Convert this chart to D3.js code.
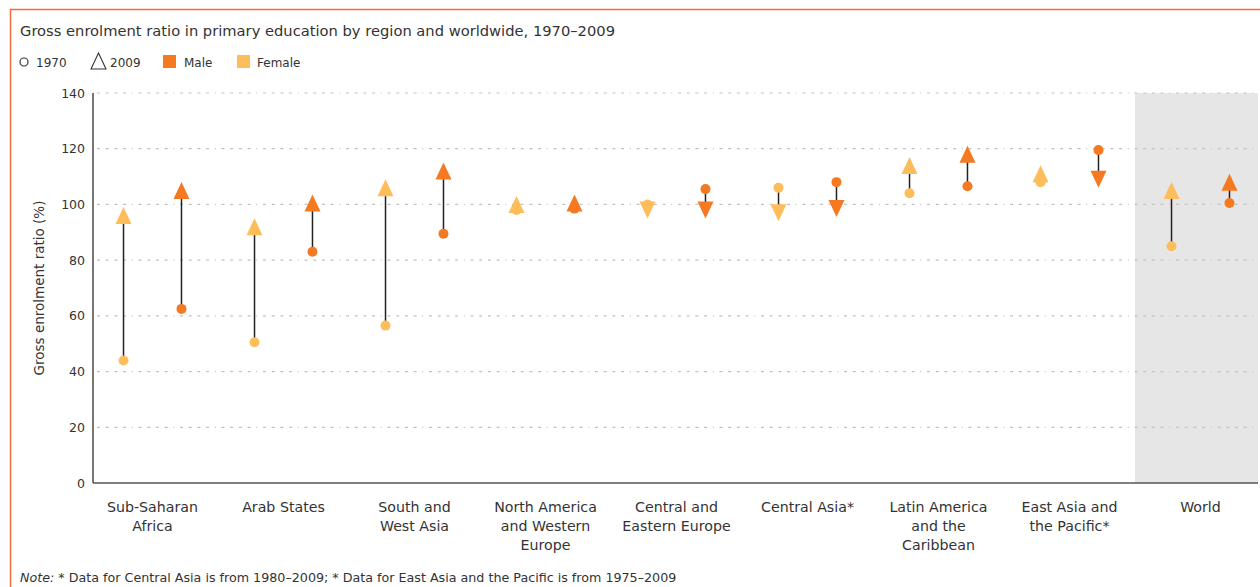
<!DOCTYPE html>
<meta charset="utf-8">
<html>
<style>
  body { margin: 0; background: #fff; }
  svg text { font-family: "DejaVu Sans", sans-serif; fill: #333; }
  .tick-label { font-size: 12.5px; }
  .cat { font-size: 14.2px; text-anchor: middle; }
</style>
<script src="https://cdnjs.cloudflare.com/ajax/libs/d3/7.8.5/d3.min.js"></script>
<body>
  <svg class="chart"></svg>
</body>
<script>
  var width = 1260;
  var height = 587;

  // data
  var categories = ["Sub-Saharan Africa", "Arab States", "South and West Asia",
    "North America and Western Europe", "Central and Eastern Europe", "Central Asia*",
    "Latin America and the Caribbean", "East Asia and the Pacific*", "World"];
  var categoryLines = [["Sub-Saharan", "Africa"], ["Arab States"], ["South and", "West Asia"],
    ["North America", "and Western", "Europe"], ["Central and", "Eastern Europe"], ["Central Asia*"],
    ["Latin America", "and the", "Caribbean"], ["East Asia and", "the Pacific*"], ["World"]];
  var female1970 = [44, 50.5, 56.5, 98, 100, 106, 104, 108, 85];
  var female2009 = [96, 92, 106, 100, 98, 97, 114, 111, 105];
  var male1970 = [62.5, 83, 89.5, 98.5, 105.5, 108, 106.5, 119.5, 100.5];
  var male2009 = [105, 100.5, 112, 100.5, 98, 98.5, 118, 109, 108];
  var yTicks = [0, 20, 40, 60, 80, 100, 120, 140];

  var maleColor = "#f47920";
  var femaleColor = "#fdbd5b";

  var svg = d3.select(".chart").attr("width", width).attr("height", height);

  var plotTop = 93, plotBottom = 483, plotLeft = 93, plotRight = 1258;

  var x = d3.scaleBand().domain(categories).range([87, 1266]);
  var sub = d3.scalePoint().domain(["Female", "Male"]).range([0, x.bandwidth()]).padding(0.63);
  var y = d3.scaleLinear().domain([0, 140]).range([plotBottom, plotTop]);

  // frame
  svg.append("path")
    .attr("d", "M10.5," + height + "V9.5H" + width)
    .attr("fill", "none")
    .attr("stroke", "#f26b3a")
    .attr("stroke-width", 1.5);

  // title
  svg.append("text").attr("x", 20).attr("y", 36)
    .style("font-size", "14.7px")
    .text("Gross enrolment ratio in primary education by region and worldwide, 1970\u20132009");

  // legend
  var lg = svg.append("g").style("font-size", "12px");
  lg.append("circle").attr("cx", 24).attr("cy", 62).attr("r", 4)
    .attr("fill", "none").attr("stroke", "#333").attr("stroke-width", 1.2);
  lg.append("text").attr("x", 36).attr("y", 66.5).text("1970");
  lg.append("path").attr("d", "M98.5,53L106,69H91Z")
    .attr("fill", "none").attr("stroke", "#333").attr("stroke-width", 1.1);
  lg.append("text").attr("x", 110).attr("y", 66.5).text("2009");
  lg.append("rect").attr("x", 163).attr("y", 55).attr("width", 13).attr("height", 13).attr("fill", maleColor);
  lg.append("text").attr("x", 184).attr("y", 66.5).text("Male");
  lg.append("rect").attr("x", 237).attr("y", 55).attr("width", 13).attr("height", 13).attr("fill", femaleColor);
  lg.append("text").attr("x", 257).attr("y", 66.5).text("Female");

  // world background
  svg.append("rect")
    .attr("x", x("World"))
    .attr("y", plotTop)
    .attr("width", plotRight - x("World"))
    .attr("height", plotBottom - plotTop)
    .attr("fill", "#e6e6e6");

  // grid
  svg.append("g").selectAll("line")
    .data(yTicks.filter(function(d) { return d > 0; }))
    .enter().append("line")
    .attr("x1", plotLeft + 4).attr("x2", plotRight)
    .attr("y1", function(d) { return y(d); })
    .attr("y2", function(d) { return y(d); })
    .attr("stroke", "#c2c2c2")
    .attr("stroke-width", 1.2)
    .attr("stroke-dasharray", "3,5.7,3,5.7,3,5.7,3,5.7,1,5.7");

  // axes
  var yAxis = svg.append("g")
    .attr("transform", "translate(" + plotLeft + ",0)")
    .call(d3.axisLeft(y).tickValues(yTicks).tickSize(0).tickPadding(8));
  yAxis.select(".domain").remove();
  yAxis.selectAll("text").attr("class", "tick-label")
    .style("font-family", "DejaVu Sans, sans-serif").attr("fill", "#333");

  svg.append("line").attr("x1", plotLeft).attr("x2", plotLeft).attr("y1", plotTop).attr("y2", plotBottom)
    .attr("stroke", "#555").attr("stroke-width", 1.6);
  svg.append("line").attr("x1", plotLeft).attr("x2", plotRight).attr("y1", plotBottom).attr("y2", plotBottom)
    .attr("stroke", "#555").attr("stroke-width", 1.6);

  svg.append("text")
    .attr("transform", "translate(44," + ((plotTop + plotBottom) / 2) + ") rotate(-90)")
    .attr("text-anchor", "middle")
    .style("font-size", "13.5px")
    .text("Gross enrolment ratio (%)");

  // category labels
  var cat = svg.append("g").selectAll("text")
    .data(categories)
    .enter().append("text")
    .attr("class", "cat")
    .attr("x", function(d) { return x(d) + x.bandwidth() / 2; })
    .attr("y", 512);
  cat.each(function(d, i) {
    var t = d3.select(this);
    categoryLines[i].forEach(function(line, j) {
      t.append("tspan").attr("x", x(d) + x.bandwidth() / 2).attr("dy", j === 0 ? 0 : 19).text(line);
    });
  });

  // marks
  var series = [];
  categories.forEach(function(c, i) {
    series.push({ cat: c, sex: "Female", v0: female1970[i], v1: female2009[i], color: femaleColor });
    series.push({ cat: c, sex: "Male", v0: male1970[i], v1: male2009[i], color: maleColor });
  });

  function triangle(d) {
    var cx = x(d.cat) + sub(d.sex), cy = y(d.v1), w = 8, h = 8.5;
    if (d.v1 >= d.v0) {
      return "M" + cx + "," + (cy - h) + "L" + (cx + w) + "," + (cy + h) + "L" + (cx - w) + "," + (cy + h) + "Z";
    }
    return "M" + cx + "," + (cy + h) + "L" + (cx + w) + "," + (cy - h) + "L" + (cx - w) + "," + (cy - h) + "Z";
  }

  var g = svg.append("g").selectAll("g").data(series).enter().append("g");

  g.append("line")
    .attr("x1", function(d) { return x(d.cat) + sub(d.sex); })
    .attr("x2", function(d) { return x(d.cat) + sub(d.sex); })
    .attr("y1", function(d) { return y(d.v0); })
    .attr("y2", function(d) { return y(d.v1); })
    .attr("stroke", "#222")
    .attr("stroke-width", 1.5);

  g.append("circle")
    .attr("cx", function(d) { return x(d.cat) + sub(d.sex); })
    .attr("cy", function(d) { return y(d.v0); })
    .attr("r", 5)
    .attr("fill", function(d) { return d.color; });

  g.append("path")
    .attr("d", triangle)
    .attr("fill", function(d) { return d.color; });

  // note
  var note = svg.append("text").attr("x", 20).attr("y", 582).style("font-size", "12.7px");
  note.append("tspan").style("font-style", "italic").text("Note:");
  note.append("tspan").text(" * Data for Central Asia is from 1980\u20132009;  * Data for East Asia and the Pacific is from 1975\u20132009");
</script>
</html>
